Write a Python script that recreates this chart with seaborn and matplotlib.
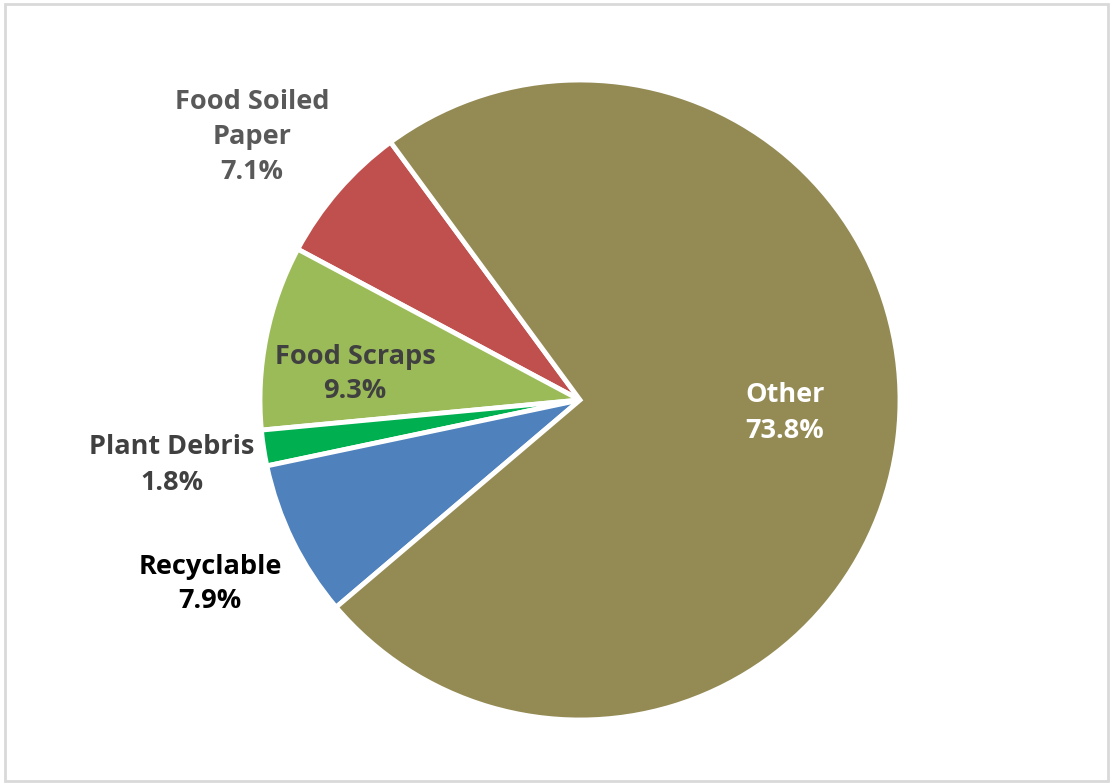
import matplotlib
matplotlib.use("Agg")
import matplotlib.pyplot as plt
import seaborn as sns
from matplotlib.patches import Rectangle

sns.set_theme(style="white")
plt.rcParams['font.family'] = ['Open Sans', 'DejaVu Sans']

categories = ["Food Soiled\nPaper", "Food Scraps", "Plant Debris", "Recyclable", "Other"]
values = [7.1, 9.3, 1.8, 7.9, 73.8]
colors = sns.color_palette(["#C0504D", "#9BBB59", "#00B050", "#4F81BD", "#948A54"])
label_colors = ["#595959", "#404040", "#404040", "#000000", "#FFFFFF"]
label_pos = [(252, 137), (355, 374), (172, 465), (210, 584), (785, 413)]

W, H = 1112, 783
fig = plt.figure(figsize=(W / 100, H / 100), dpi=100)
ax = fig.add_axes([0, 0, 1, 1])
ax.set_xlim(0, W)
ax.set_ylim(0, H)
ax.axis("off")

ax.add_patch(Rectangle((5, 2), W - 9, H - 6, fill=False, edgecolor="#D9D9D9", linewidth=2))

ax.pie(values, colors=colors, startangle=126.3, counterclock=True,
       center=(580, H - 400), radius=320,
       wedgeprops=dict(edgecolor="white", linewidth=3.5))
ax.set_xlim(0, W)
ax.set_ylim(0, H)
ax.set_aspect("equal")

for cat, v, col, (x, y) in zip(categories, values, label_colors, label_pos):
    ax.text(x, H - y, f"{cat}\n{v}%", ha="center", va="center", color=col,
            fontsize=19.5, fontweight="bold", linespacing=1.45)

fig.savefig("out.png", dpi=100)
